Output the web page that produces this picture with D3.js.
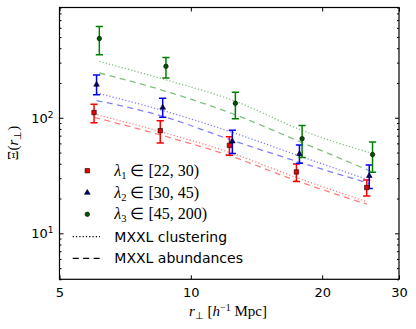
<!DOCTYPE html>
<html>
<head>
<meta charset="utf-8">
<script src="https://cdn.jsdelivr.net/npm/d3@7"></script>
<style>
  body { margin: 0; background: #fff; }
  svg { display: block; }
  .tick text { font-family: "DejaVu Sans", sans-serif; font-size: 13px; fill: #000; }
</style>
</head>
<body>
<div id="chart"></div>
<script>
// projected separations (slightly offset per richness bin)
const rRed = [6.0, 8.51, 12.26, 17.46, 25.3];
const rBlue = [6.08, 8.62, 12.45, 17.74, 25.64];
const rGreen = [6.17, 8.77, 12.65, 17.99, 26.09];

// measured Xi(r_perp) with error bars
const xiRed = [111, 77.3, 57.7, 34.0, 24.9];
const loRed = [90.6, 60.4, 47.3, 28.1, 21.0];
const hiRed = [131, 94.2, 68.6, 39.8, 29.0];

const xiBlue = [193.7, 122.7, 62.5, 48.6, 31.4];
const loBlue = [157.9, 101, 49, 40.4, 24.4];
const hiBlue = [235, 147.6, 77.8, 58, 39];

const xiGreen = [485, 278.5, 133.6, 65.9, 48.0];
const loGreen = [351, 221, 98, 45.2, 33.8];
const hiGreen = [616, 333, 166, 85.9, 61.6];

// MXXL model curves
const clustRed = [108, 75.9, 50.2, 30.4, 18.8];
const abundRed = [101, 71, 47, 28.5, 17.9];
const clustBlue = [164, 115.6, 74.7, 46.7, 28.8];
const abundBlue = [141, 103, 63.7, 41.3, 27];
const clustGreen = [307, 212.6, 139, 77.7, 49];
const abundGreen = [244, 169.5, 106, 61, 34];

const xTicks = [5, 10, 20, 30];
const yMajor = [10, 100];

const width = 416, height = 329;
const margin = { top: 7.5, right: 17, bottom: 49.7, left: 59.5 };

const svg = d3.select('#chart').append('svg')
  .attr('width', width)
  .attr('height', height);

const x = d3.scaleLog()
  .domain([5, 30])
  .range([margin.left, width - margin.right]);

const y = d3.scaleLog()
  .domain([4, 900])
  .range([height - margin.bottom, margin.top]);

const yMinor = y.ticks().filter(v => !yMajor.includes(v));

const plotW = width - margin.left - margin.right;
const plotH = height - margin.top - margin.bottom;

// clip for the plot area
svg.append('clipPath').attr('id', 'clip')
  .append('rect')
  .attr('x', margin.left).attr('y', margin.top)
  .attr('width', plotW).attr('height', plotH);

const plot = svg.append('g').attr('clip-path', 'url(#clip)');

const series = [
  { r: rRed, xi: xiRed, lo: loRed, hi: hiRed, clust: clustRed, abund: abundRed, color: '#ff0000', marker: 'square', label: ['1', '[22, 30)'] },
  { r: rBlue, xi: xiBlue, lo: loBlue, hi: hiBlue, clust: clustBlue, abund: abundBlue, color: '#0000ff', marker: 'triangle', label: ['2', '[30, 45)'] },
  { r: rGreen, xi: xiGreen, lo: loGreen, hi: hiGreen, clust: clustGreen, abund: abundGreen, color: '#008000', marker: 'circle', label: ['3', '[45, 200)'] }
];

// model lines
series.forEach(s => {
  const lineModel = d3.line()
    .x((d, i) => x(s.r[i]))
    .y(d => y(d))
    .curve(d3.curveMonotoneX);

  plot.append('path')
    .datum(s.clust)
    .attr('fill', 'none')
    .attr('stroke', s.color)
    .attr('stroke-opacity', 0.5)
    .attr('stroke-width', 1.3)
    .attr('stroke-dasharray', '1.2,2.1')
    .attr('d', lineModel);

  plot.append('path')
    .datum(s.abund)
    .attr('fill', 'none')
    .attr('stroke', s.color)
    .attr('stroke-opacity', 0.5)
    .attr('stroke-width', 1.3)
    .attr('stroke-dasharray', '6,4.5')
    .attr('d', lineModel);
});

// error bars
series.forEach(s => {
  const g = plot.append('g').attr('stroke', s.color).attr('stroke-width', 1.5);
  s.r.forEach((r, i) => {
    const cx = x(r);
    g.append('line').attr('x1', cx).attr('x2', cx).attr('y1', y(s.lo[i])).attr('y2', y(s.hi[i]));
    g.append('line').attr('x1', cx - 3.6).attr('x2', cx + 3.6).attr('y1', y(s.lo[i])).attr('y2', y(s.lo[i]));
    g.append('line').attr('x1', cx - 3.6).attr('x2', cx + 3.6).attr('y1', y(s.hi[i])).attr('y2', y(s.hi[i]));
  });
});

// markers
const symbolFor = { square: d3.symbolSquare, triangle: d3.symbolTriangle, circle: d3.symbolCircle };
const sizeFor = { square: 20, triangle: 14, circle: 16 };
const fillFor = { square: '#ee0000', triangle: '#00007a', circle: '#005500' };

function drawMarker(g, s, cx, cy) {
  g.append('path')
    .attr('d', d3.symbol().type(symbolFor[s.marker]).size(sizeFor[s.marker])())
    .attr('transform', `translate(${cx},${cy})`)
    .attr('fill', fillFor[s.marker])
    .attr('stroke', '#000')
    .attr('stroke-width', 0.6);
}

series.forEach(s => {
  s.r.forEach((r, i) => drawMarker(plot, s, x(r), y(s.xi[i])));
});

// axes (ticks pointing inward on all sides)
const bottom = height - margin.bottom;
const right = width - margin.right;

svg.append('g')
  .attr('transform', `translate(0,${bottom})`)
  .call(d3.axisBottom(x).tickValues(xTicks).tickFormat(d3.format('d')).tickSizeInner(-4).tickSizeOuter(0).tickPadding(8))
  .call(g => g.select('.domain').remove());

svg.append('g')
  .attr('transform', `translate(0,${margin.top})`)
  .call(d3.axisTop(x).tickValues(xTicks).tickFormat('').tickSizeInner(-4).tickSizeOuter(0))
  .call(g => g.select('.domain').remove());

svg.append('g')
  .attr('transform', `translate(${margin.left},0)`)
  .call(d3.axisLeft(y).tickValues(yMajor).tickFormat('').tickSizeInner(-4).tickSizeOuter(0))
  .call(g => g.select('.domain').remove());

svg.append('g')
  .attr('transform', `translate(${margin.left},0)`)
  .call(d3.axisLeft(y).tickValues(yMinor).tickFormat('').tickSizeInner(-2).tickSizeOuter(0))
  .call(g => g.select('.domain').remove());

svg.append('g')
  .attr('transform', `translate(${right},0)`)
  .call(d3.axisRight(y).tickValues(yMajor).tickFormat('').tickSizeInner(-4).tickSizeOuter(0))
  .call(g => g.select('.domain').remove());

svg.append('g')
  .attr('transform', `translate(${right},0)`)
  .call(d3.axisRight(y).tickValues(yMinor).tickFormat('').tickSizeInner(-2).tickSizeOuter(0))
  .call(g => g.select('.domain').remove());

// y tick labels 10^n
yMajor.forEach(v => {
  const t = svg.append('text')
    .attr('x', margin.left - 6)
    .attr('y', y(v) + 5)
    .attr('text-anchor', 'end')
    .attr('font-family', '"DejaVu Sans", sans-serif')
    .attr('font-size', 13);
  t.append('tspan').text('10');
  t.append('tspan').attr('dy', -5).attr('font-size', 9).text(Math.round(Math.log10(v)));
});

svg.selectAll('.tick line').attr('stroke', '#000');

// frame
svg.append('rect')
  .attr('x', margin.left).attr('y', margin.top)
  .attr('width', plotW).attr('height', plotH)
  .attr('fill', 'none')
  .attr('stroke', '#000')
  .attr('stroke-width', 1.2);

// axis labels
const xl = svg.append('text')
  .attr('x', 228)
  .attr('y', 316)
  .attr('text-anchor', 'middle')
  .attr('font-family', '"Liberation Serif", serif')
  .attr('font-size', 15);
xl.append('tspan').attr('font-style', 'italic').text('r');
xl.append('tspan').attr('dy', 3).attr('font-size', 10).text('⊥');
xl.append('tspan').attr('dy', -3).text(' [');
xl.append('tspan').attr('font-style', 'italic').text('h');
xl.append('tspan').attr('dy', -5).attr('font-size', 10).text('−1');
xl.append('tspan').attr('dy', 5).text(' Mpc]');

const yl = svg.append('text')
  .attr('transform', 'translate(18,143) rotate(-90)')
  .attr('text-anchor', 'middle')
  .attr('font-family', '"Liberation Serif", serif')
  .attr('font-size', 15);
yl.append('tspan').text('Ξ(');
yl.append('tspan').attr('font-style', 'italic').text('r');
yl.append('tspan').attr('dy', 3).attr('font-size', 10).text('⊥');
yl.append('tspan').attr('dy', -3).text(')');

// legend
const legend = svg.append('g');
const legX = 87.3, textX = 114.3, rowY = [170.7, 192.7, 214.3, 236.7, 258.3];

series.forEach((s, i) => {
  drawMarker(legend, s, legX, rowY[i]);
  const t = legend.append('text')
    .attr('x', textX)
    .attr('y', rowY[i] + 5)
    .attr('font-family', '"Liberation Serif", serif')
    .attr('font-size', 16);
  t.append('tspan').attr('font-style', 'italic').text('λ');
  t.append('tspan').attr('dy', 3).attr('font-size', 10.5).text(s.label[0]);
  t.append('tspan').attr('dy', -3).text(' ∈ ' + s.label[1]);
});

const lineKeys = [
  { dash: '1.2,2.1', text: 'MXXL clustering' },
  { dash: '6,4.5', text: 'MXXL abundances' }
];
lineKeys.forEach((k, i) => {
  const yy = rowY[3 + i];
  legend.append('line')
    .attr('x1', 72.7).attr('x2', 100)
    .attr('y1', yy).attr('y2', yy)
    .attr('stroke', '#000')
    .attr('stroke-width', 1.2)
    .attr('stroke-dasharray', k.dash);
  legend.append('text')
    .attr('x', textX)
    .attr('y', yy + 5)
    .attr('font-family', '"DejaVu Sans", sans-serif')
    .attr('font-size', 14)
    .text(k.text);
});
</script>
</body>
</html>
